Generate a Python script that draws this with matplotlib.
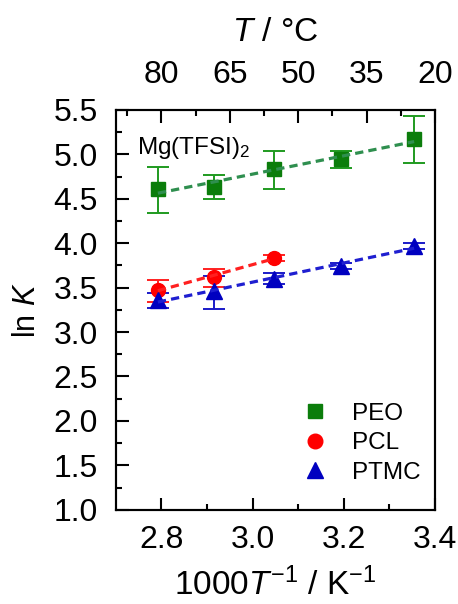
import numpy as np
import matplotlib
matplotlib.use("Agg")
import matplotlib.pyplot as plt
from matplotlib.lines import Line2D
from matplotlib.ticker import MultipleLocator, FixedLocator

plt.rcParams['font.family'] = ['Liberation Sans', 'DejaVu Sans']
plt.rcParams['mathtext.fontset'] = 'custom'
plt.rcParams['mathtext.rm'] = 'Liberation Sans'
plt.rcParams['mathtext.it'] = 'Liberation Sans:italic'

# measurement temperatures (deg C)
temps_C = [85, 70, 55, 40, 25]
inv_T = [1000.0 / (t + 273.15) for t in temps_C]

# ln K values and (lower, upper) error bars
peo_y = [4.61, 4.63, 4.84, 4.95, 5.17]
peo_lo = [0.27, 0.135, 0.225, 0.10, 0.27]
peo_hi = [0.25, 0.135, 0.20, 0.09, 0.26]

pcl_y = [3.475, 3.62, 3.835]
pcl_lo = [0.135, 0.11, 0.03]
pcl_hi = [0.11, 0.09, 0.03]

ptmc_y = [3.36, 3.46, 3.60, 3.745, 3.97]
ptmc_lo = [0.09, 0.20, 0.06, 0.03, 0.03]
ptmc_hi = [0.08, 0.17, 0.06, 0.03, 0.03]

top_ticks = [2.8, 2.95, 3.1, 3.25, 3.4]
top_labels = ['80', '65', '50', '35', '20']

series = [
    ('PEO', peo_y, peo_lo, peo_hi, 's', '#0b7d0b', '#1f9a1f', '#2f8f4f', 9.5),
    ('PCL', pcl_y, pcl_lo, pcl_hi, 'o', '#ff0000', '#ff2020', '#ff2020', 10),
    ('PTMC', ptmc_y, ptmc_lo, ptmc_hi, '^', '#0000c0', '#1a1ac8', '#1f1fd0', 11),
]

fig = plt.figure(figsize=(4.58, 6.04), dpi=100)
ax = fig.add_axes([0.253, 0.156, 0.697, 0.662])

handles = []
for name, y, lo, hi, mk, col, ecol, fcol, ms in series:
    x = inv_T[:len(y)]
    ax.errorbar(x, y, yerr=[lo, hi], fmt=mk, color=col, ms=ms, ecolor=ecol,
                elinewidth=1.4, capsize=8, capthick=1.4, zorder=3)
    k, b = np.polyfit(x, y, 1)
    xf = np.array([x[0], x[-1]])
    ax.plot(xf, k * xf + b, ls=(0, (2.6, 1.6)), lw=2.3, color=fcol, zorder=4)
    handles.append(Line2D([], [], ls='none', marker=mk, color=col, ms=ms * 1.05, label=name))

ax.set_xlim(2.7, 3.4)
ax.set_ylim(1.0, 5.5)
ax.xaxis.set_major_locator(FixedLocator([2.8, 3.0, 3.2, 3.4]))
ax.xaxis.set_minor_locator(FixedLocator([2.9, 3.1, 3.3]))
ax.yaxis.set_major_locator(MultipleLocator(0.5))
ax.yaxis.set_minor_locator(MultipleLocator(0.25))
ax.tick_params(which='both', direction='in', width=1.5, labelsize=23, top=False, right=False)
ax.tick_params(which='major', length=9)
ax.tick_params(which='minor', length=4.5)
ax.tick_params(axis='x', which='major', pad=11)
ax.tick_params(axis='y', which='major', pad=13)
ax.set_xticklabels(['2.8', '3.0', '3.2', '3.4'])
for s in ax.spines.values():
    s.set_linewidth(1.5)

ax.set_xlabel('1000$T^{-1}$ / K$^{-1}$', fontsize=24, labelpad=9)
ax.set_ylabel('ln $K$', fontsize=22, labelpad=8)

ax2 = ax.twiny()
ax2.set_xlim(ax.get_xlim())
ax2.xaxis.set_major_locator(FixedLocator(top_ticks))
ax2.xaxis.set_minor_locator(FixedLocator([2.725, 2.875, 3.025, 3.175, 3.325]))
ax2.set_xticklabels(top_labels)
ax2.tick_params(which='both', direction='in', width=1.5, labelsize=23)
ax2.tick_params(which='major', length=9, pad=14)
ax2.tick_params(which='minor', length=4.5)
ax2.set_xlabel('$T$ / °C', fontsize=24, labelpad=14)
for s in ax2.spines.values():
    s.set_linewidth(1.5)

ax.text(0.065, 0.905, 'Mg(TFSI)$_2$', transform=ax.transAxes, fontsize=17.5, va='center')

ax.legend(handles=handles, loc='upper left', bbox_to_anchor=(0.51, 0.322), frameon=False,
          fontsize=17.5, handlelength=1.2, handletextpad=0.9, labelspacing=0.3)

fig.savefig('out.png', dpi=100)
